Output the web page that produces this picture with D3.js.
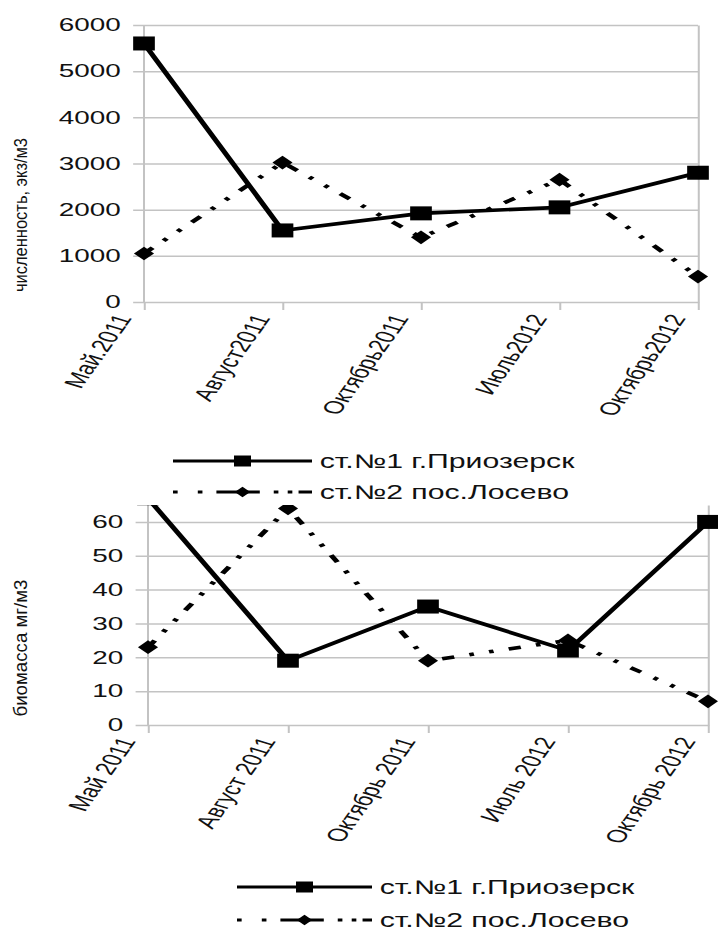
<!DOCTYPE html>
<html>
<head>
<meta charset="utf-8">
<script src="https://cdn.jsdelivr.net/npm/d3@7/dist/d3.min.js"></script>
<style>
  body { margin: 0; background: #fff; }
  svg { display: block; }
</style>
</head>
<body>
<div id="chart"></div>
<script>
// Data
var abundanceCategories = ["Май.2011", "Август2011", "Октябрь2011", "Июль2012", "Октябрь2012"];
var biomassCategories = ["Май 2011", "Август 2011", "Октябрь 2011", "Июль 2012", "Октябрь 2012"];
var seriesNames = ["ст.№1 г.Приозерск", "ст.№2 пос.Лосево"];

var abundanceSt1 = [5600, 1550, 1920, 2050, 2800];
var abundanceSt2 = [1050, 3020, 1400, 2650, 550];
var biomassSt1 = [67, 19, 35, 22, 60];
var biomassSt2 = [23, 64, 19, 25, 7];

var abundanceTicks = [0, 1000, 2000, 3000, 4000, 5000, 6000];
var biomassTicks = [0, 10, 20, 30, 40, 50, 60];

// The whole picture is stretched horizontally, so draw narrow and scale x
var SX = 1.55;
var W = 718 / SX, H = 934;

var colors = {
  grid: "#c3c3c3",
  ink: "#000",
  text: "#111"
};
var font = "'Liberation Sans', Arial, sans-serif";

var svg = d3.select("#chart").append("svg")
  .attr("width", 718)
  .attr("height", H)
  .attr("viewBox", "0 0 " + W + " " + H)
  .attr("preserveAspectRatio", "none")
  .attr("font-family", font);

var panels = [
  {
    id: "abund",
    categories: abundanceCategories,
    series: [abundanceSt1, abundanceSt2],
    ticks: abundanceTicks,
    yMax: 6000,
    title: "численность, экз/м3",
    x0: 144 / SX, x1: 698 / SX, y0: 25, y1: 302,
    tickOut: 7,
    titleX: 17.5, titleY: 215, titleLen: 154,
    legendX: 173 / SX, legendLen: 139 / SX, legendY: 461, legendGap: 31
  },
  {
    id: "bio",
    categories: biomassCategories,
    series: [biomassSt1, biomassSt2],
    ticks: biomassTicks,
    yMax: 65,
    title: "биомасса мг/м3",
    x0: 148 / SX, x1: 708 / SX, y0: 505, y1: 725,
    tickOut: 8,
    titleX: 17.5, titleY: 648, titleLen: 137,
    legendX: 237 / SX, legendLen: 135 / SX, legendY: 887, legendGap: 33
  }
];

var lineStyles = [
  { dash: null, legendDash: null, marker: "square" },
  { dash: "8,10,3,10,3,10", legendDash: "3,13,3,9,28,9,3,6,3,4,10", marker: "diamond" }
];

panels.forEach(drawPanel);

function markerPath(type, s) {
  if (type === "square") {
    return "M" + (-s) + "," + (-s) + "h" + (2 * s) + "v" + (2 * s) + "h" + (-2 * s) + "Z";
  }
  return "M0," + (-s * 1.05) + "L" + s + ",0L0," + (s * 1.05) + "L" + (-s) + ",0Z";
}

function drawPanel(p) {
  var g = svg.append("g").attr("class", "panel-" + p.id);
  var plotW = p.x1 - p.x0;

  var x = d3.scalePoint().domain(p.categories).range([p.x0, p.x1]);
  var y = d3.scaleLinear().domain([0, p.yMax]).range([p.y1, p.y0]);

  // Gridlines + y labels, drawn from the right edge leftwards
  var yAxis = g.append("g")
    .attr("transform", "translate(" + p.x1 + ",0)")
    .call(d3.axisLeft(y)
      .tickValues(p.ticks)
      .tickFormat(d3.format("d"))
      .tickSizeInner(plotW + p.tickOut)
      .tickSizeOuter(0)
      .tickPadding(8));
  yAxis.select(".domain").attr("stroke", colors.grid).attr("stroke-width", 1.3);
  yAxis.selectAll(".tick line").attr("stroke", colors.grid).attr("stroke-width", 1.5);
  yAxis.selectAll(".tick text")
    .attr("font-family", font)
    .attr("font-size", 18)
    .attr("fill", colors.text);

  // Left axis line
  g.append("line")
    .attr("x1", p.x0).attr("x2", p.x0)
    .attr("y1", p.y0).attr("y2", p.y1)
    .attr("stroke", colors.grid).attr("stroke-width", 1.3);

  // Category axis
  var xAxis = g.append("g")
    .attr("transform", "translate(0," + p.y1 + ")")
    .call(d3.axisBottom(x).tickSizeInner(8).tickSizeOuter(0));
  xAxis.select(".domain").remove();
  xAxis.selectAll(".tick line").attr("stroke", colors.grid).attr("stroke-width", 1.3);
  xAxis.selectAll(".tick text")
    .attr("y", null).attr("dy", null)
    .attr("text-anchor", "end")
    .attr("transform", "translate(-8,16) rotate(-65)")
    .attr("font-family", font)
    .attr("font-size", 18)
    .attr("fill", colors.text);

  // Clip marks to the plot area
  g.append("clipPath").attr("id", "clip-" + p.id)
    .append("rect")
    .attr("x", p.x0 - 20).attr("y", p.y0)
    .attr("width", plotW + 40).attr("height", p.y1 - p.y0 + 20);

  var marks = g.append("g").attr("clip-path", "url(#clip-" + p.id + ")");

  var line = d3.line()
    .x(function(d, i) { return x(p.categories[i]); })
    .y(function(d) { return y(d); });

  // draw the dashed series first so the solid one sits on top
  [1, 0].forEach(function(si) {
    var st = lineStyles[si];
    marks.append("path")
      .datum(p.series[si])
      .attr("d", line)
      .attr("fill", "none")
      .attr("stroke", colors.ink)
      .attr("stroke-width", 3.6)
      .attr("stroke-dasharray", st.dash);

    marks.selectAll(".mk-" + si)
      .data(p.series[si])
      .enter()
      .append("path")
      .attr("class", "mk-" + si)
      .attr("transform", function(d, i) {
        return "translate(" + x(p.categories[i]) + "," + y(d) + ")";
      })
      .attr("d", markerPath(st.marker, st.marker === "square" ? 7 : 6.5))
      .attr("fill", colors.ink);
  });

  // Y title
  g.append("text")
    .attr("transform", "translate(" + p.titleX + "," + p.titleY + ") rotate(-90)")
    .attr("text-anchor", "middle")
    .attr("font-size", 12)
    .attr("textLength", p.titleLen)
    .attr("lengthAdjust", "spacingAndGlyphs")
    .attr("fill", colors.text)
    .text(p.title);

  // Legend
  var legend = g.append("g").attr("class", "legend");
  seriesNames.forEach(function(name, si) {
    var st = lineStyles[si];
    var ly = p.legendY + si * p.legendGap;
    legend.append("line")
      .attr("x1", p.legendX).attr("x2", p.legendX + p.legendLen)
      .attr("y1", ly).attr("y2", ly)
      .attr("stroke", colors.ink)
      .attr("stroke-width", 3)
      .attr("stroke-dasharray", st.legendDash);
    legend.append("path")
      .attr("transform", "translate(" + (p.legendX + p.legendLen / 2) + "," + ly + ")")
      .attr("d", markerPath(st.marker, st.marker === "square" ? 5.5 : 5))
      .attr("fill", colors.ink);
    legend.append("text")
      .attr("x", p.legendX + p.legendLen + 5)
      .attr("y", ly)
      .attr("dy", "0.36em")
      .attr("font-size", 19.5)
      .attr("fill", colors.text)
      .text(name);
  });
}
</script>
</body>
</html>
